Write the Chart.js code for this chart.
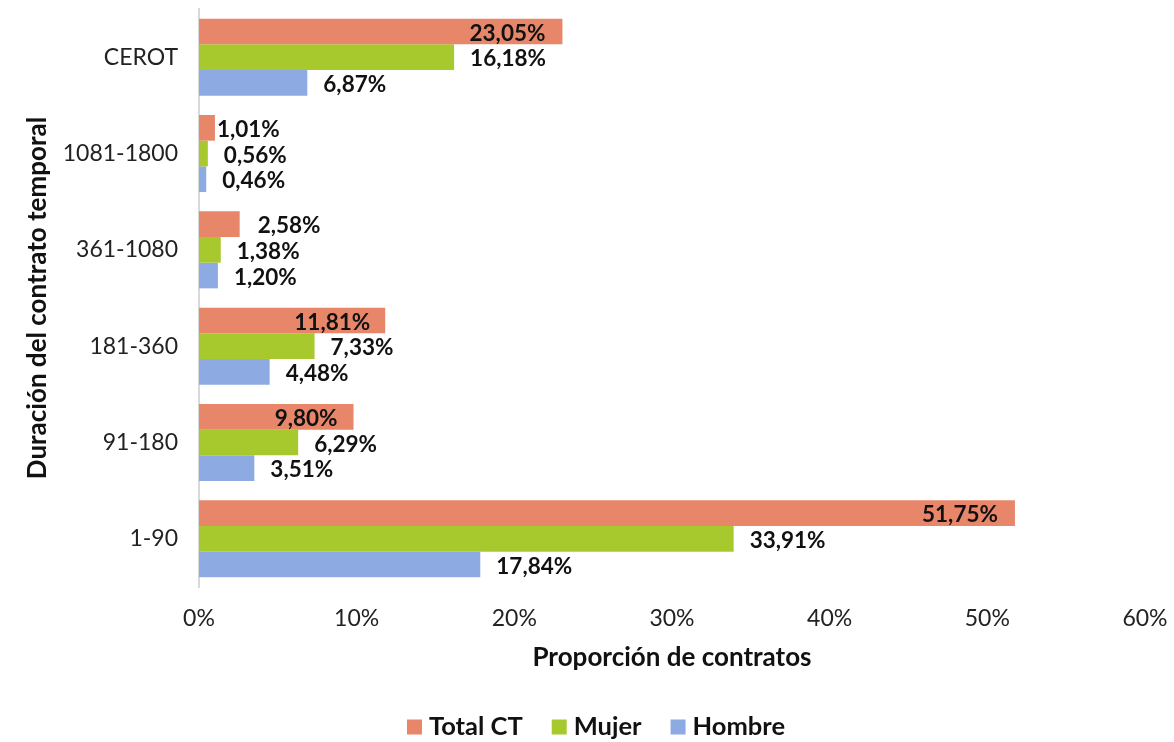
<!DOCTYPE html>
<html>
<head>
<meta charset="utf-8">
<script src="https://cdn.jsdelivr.net/npm/chart.js@4"></script>
<style>
  html, body { margin: 0; padding: 0; background: #ffffff; }
  #wrap { width: 1174px; height: 742px; position: relative; }
</style>
</head>
<body>
<div id="wrap"><canvas id="chart"></canvas></div>
<script>
// Duración del contrato temporal (top to bottom)
const categories = ['CEROT', '1081-1800', '361-1080', '181-360', '91-180', '1-90'];
const totalCT = [23.05, 1.01, 2.58, 11.81, 9.80, 51.75];
const mujer = [16.18, 0.56, 1.38, 7.33, 6.29, 33.91];
const hombre = [6.87, 0.46, 1.20, 4.48, 3.51, 17.84];
const xTicks = [0, 10, 20, 30, 40, 50, 60];

// label nudges (px) for the Total CT series, negative = inside the bar
const totalLabelShift = [-17, 2, 18, -15, -16, -17];

const FONT = 'Lato, "Open Sans", sans-serif';

function formatPct(v) {
    return v.toFixed(2).replace('.', ',') + '%';
}

// value labels next to / inside each bar
const labelPlugin = {
    id: 'barLabels',
    afterDatasetsDraw(chart) {
        const ctx = chart.ctx;
        ctx.save();
        ctx.font = 'bold 22.5px ' + FONT;
        ctx.fillStyle = '#111111';
        ctx.textBaseline = 'middle';
        chart.data.datasets.forEach((ds, di) => {
            const meta = chart.getDatasetMeta(di);
            meta.data.forEach((bar, i) => {
                const txt = formatPct(ds.data[i]);
                let x = bar.x;
                if (di === 0) {
                    const shift = totalLabelShift[i];
                    ctx.textAlign = shift < 0 ? 'right' : 'left';
                    x += shift;
                } else {
                    ctx.textAlign = 'left';
                    x += 16;
                }
                ctx.fillText(txt, x, bar.y + 2);
            });
        });
        ctx.restore();
    }
};

// legend drawn by hand so it sits low like the original
const legendPlugin = {
    id: 'bottomLegend',
    afterDraw(chart) {
        const ctx = chart.ctx;
        const box = 15, gapText = 7, gapItem = 29;
        ctx.save();
        ctx.font = 'bold 25.5px ' + FONT;
        ctx.textBaseline = 'middle';
        ctx.textAlign = 'left';
        const items = chart.data.datasets.map(ds => ({
            label: ds.label,
            color: ds.backgroundColor,
            w: ctx.measureText(ds.label).width
        }));
        let total = 0;
        items.forEach((it, i) => {
            total += box + gapText + it.w + (i < items.length - 1 ? gapItem : 0);
        });
        let x = 596 - total / 2;
        const y = 727;
        items.forEach(it => {
            ctx.fillStyle = it.color;
            ctx.fillRect(x, y - box / 2, box, box);
            x += box + gapText;
            ctx.fillStyle = '#111111';
            ctx.fillText(it.label, x, y);
            x += it.w + gapItem;
        });
        ctx.restore();
    }
};

new Chart(document.getElementById('chart'), {
    type: 'bar',
    data: {
        labels: categories,
        datasets: [
            { label: 'Total CT', data: totalCT, backgroundColor: '#e8866a' },
            { label: 'Mujer', data: mujer, backgroundColor: '#a8c92e' },
            { label: 'Hombre', data: hombre, backgroundColor: '#8eaae3' }
        ]
    },
    options: {
        indexAxis: 'y',
        responsive: true,
        maintainAspectRatio: false,
        animation: false,
        layout: { padding: { top: 9, right: 29, left: 0, bottom: 45 } },
        datasets: {
            bar: {
                categoryPercentage: 0.8,
                barPercentage: 1.0,
                borderWidth: 0
            }
        },
        scales: {
            x: {
                min: 0,
                max: 60,
                afterFit(scale) {
                    scale.height = 110;
                    scale.paddingLeft = 0;
                    scale.paddingRight = 0;
                },
                afterBuildTicks(scale) {
                    scale.ticks = xTicks.map(v => ({ value: v }));
                },
                grid: { display: false, drawTicks: false },
                border: { display: false },
                ticks: {
                    padding: 18,
                    maxRotation: 0,
                    color: '#222222',
                    font: { family: FONT, size: 23 },
                    callback: v => v + '%'
                },
                title: {
                    display: true,
                    text: 'Proporción de contratos',
                    color: '#111111',
                    font: { family: FONT, size: 26, weight: 'bold' },
                    padding: { top: 0, bottom: 24 }
                }
            },
            y: {
                afterFit(scale) {
                    scale.width = 199;
                    scale.paddingTop = 0;
                    scale.paddingBottom = 0;
                },
                grid: { display: false, drawTicks: false },
                border: { display: true, color: '#d9d9d9', width: 2 },
                ticks: {
                    padding: 21,
                    color: '#222222',
                    font: { family: FONT, size: 23 }
                },
                title: {
                    display: true,
                    text: 'Duración del contrato temporal',
                    color: '#111111',
                    font: { family: FONT, size: 26, weight: 'bold' },
                    padding: { top: 22, bottom: 0 }
                }
            }
        },
        plugins: {
            legend: { display: false },
            tooltip: { enabled: false }
        }
    },
    plugins: [labelPlugin, legendPlugin]
});
</script>
</body>
</html>
